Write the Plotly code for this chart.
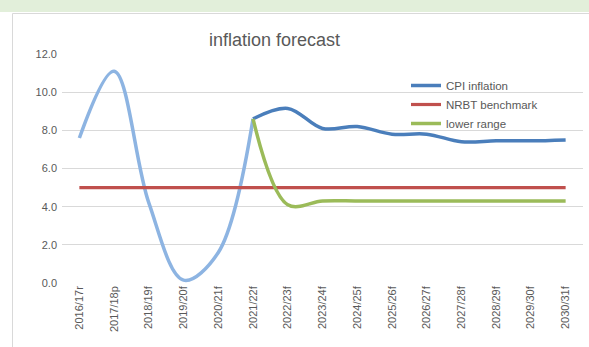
import plotly.graph_objects as go

# Fiscal years on the category axis
years = ["2016/17r", "2017/18p", "2018/19f", "2019/20f", "2020/21f", "2021/22f",
         "2022/23f", "2023/24f", "2024/25f", "2025/26f", "2026/27f", "2027/28f",
         "2028/29f", "2029/30f", "2030/31f"]

# Series values (percent)
cpi_inflation = [7.6, 11.1, 4.2, 0.15, 1.6, 8.6, 9.15, 8.1, 8.2, 7.8, 7.8, 7.4, 7.45, 7.45, 7.5]
nrbt_benchmark = [5.0] * 15
lower_range = [None, None, None, None, None, 8.6, 4.1, 4.3, 4.3, 4.3, 4.3, 4.3, 4.3, 4.3, 4.3]

# CPI points up to this index are drawn in the lighter (outturn) shade
split = 5

y_ticks = [0, 2, 4, 6, 8, 10, 12]
y_tick_text = ["0.0", "2.0", "4.0", "6.0", "8.0", "10.0", "12.0"]

W, H = 589, 347
L, R, T, B = 62, 6, 54, 64
PW, PH = W - L - R, H - T - B


def px_x(px):
    return (px - L) / PW


def px_y(py):
    return (H - B - py) / PH


DARK_BLUE = "#4A7EBB"
LIGHT_BLUE = "#8DB4E2"
RED = "#C0504D"
GREEN = "#9BBB59"
TEXT = "#595959"
GRID = "#D9D9D9"
FONT = "Liberation Sans"

fig = go.Figure()

fig.add_trace(go.Scatter(
    x=years[split:], y=cpi_inflation[split:], name="CPI inflation", mode="lines",
    line=dict(color=DARK_BLUE, width=3.5, shape="spline", smoothing=1.0),
))
fig.add_trace(go.Scatter(
    x=years[:split + 1], y=cpi_inflation[:split + 1], mode="lines", showlegend=False,
    line=dict(color=LIGHT_BLUE, width=3.5, shape="spline", smoothing=1.0),
))
fig.add_trace(go.Scatter(
    x=years, y=nrbt_benchmark, name="NRBT benchmark", mode="lines",
    line=dict(color=RED, width=3.2),
))
fig.add_trace(go.Scatter(
    x=years, y=lower_range, name="lower range", mode="lines",
    line=dict(color=GREEN, width=3.5, shape="spline", smoothing=1.0),
))

shapes = [
    # pale green strip along the top of the page
    dict(type="rect", xref="paper", yref="paper", layer="below",
         x0=px_x(-5), x1=px_x(W + 5), y0=px_y(12), y1=px_y(-5),
         fillcolor="#E2EFDA", line=dict(width=0)),
    # chart area frame
    dict(type="rect", xref="paper", yref="paper", layer="below",
         x0=px_x(12.5), x1=px_x(W + 20), y0=px_y(H + 20), y1=px_y(13.5),
         fillcolor="white", line=dict(color=GRID, width=1)),
]

fig.update_layout(
    width=W, height=H,
    margin=dict(l=L, r=R, t=T, b=B, pad=0),
    paper_bgcolor="white", plot_bgcolor="rgba(0,0,0,0)",
    font=dict(family=FONT, color=TEXT, size=11),
    shapes=shapes,
    annotations=[dict(
        text="inflation forecast", xref="paper", yref="paper",
        x=px_x(274), y=px_y(40), xanchor="center", yanchor="middle",
        showarrow=False, font=dict(family=FONT, size=18, color=TEXT),
    )],
    showlegend=True,
    legend=dict(
        x=px_x(406), y=px_y(71), xanchor="left", yanchor="top",
        bgcolor="rgba(0,0,0,0)", font=dict(family=FONT, size=11.5, color=TEXT),
        tracegroupgap=0, itemwidth=30,
    ),
    xaxis=dict(
        type="category", categoryorder="array", categoryarray=years,
        range=[-0.5, len(years) - 0.5], tickangle=-90,
        showgrid=False, showline=False, zeroline=False, ticks="",
        tickfont=dict(family=FONT, size=11, color=TEXT),
    ),
    yaxis=dict(
        range=[0, 12], tickvals=y_ticks, ticktext=y_tick_text,
        showgrid=True, gridcolor=GRID, gridwidth=1, zeroline=False,
        showline=False, ticks="", ticklabelstandoff=4,
        tickfont=dict(family=FONT, size=11, color=TEXT),
    ),
)

fig.write_html("out.html")
